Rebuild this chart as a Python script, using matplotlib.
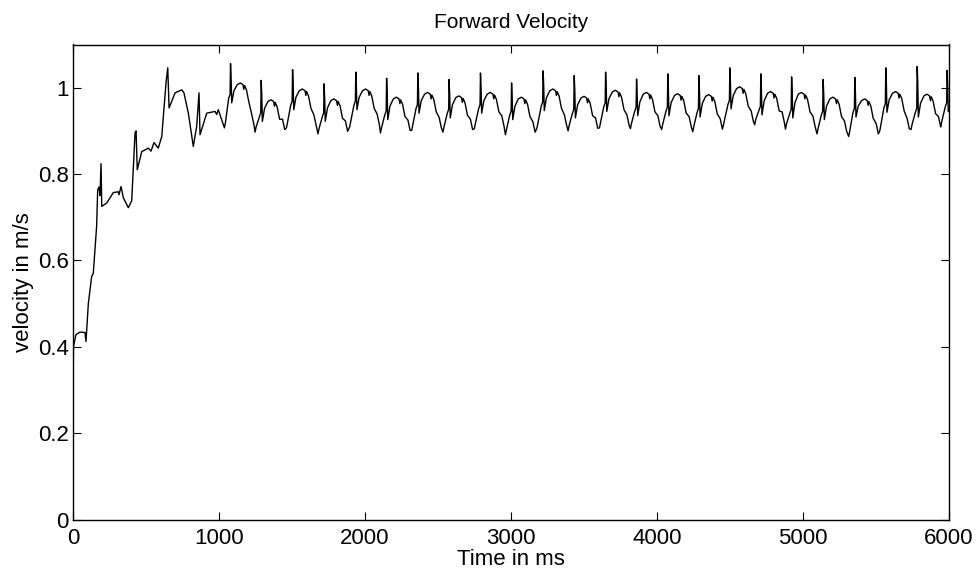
import numpy as np
import matplotlib
matplotlib.use("Agg")
import matplotlib.pyplot as plt

# ---- data ----
# early (start-up) part of the trace: time in ms, velocity in m/s
early_t = [0, 3, 20, 48, 82, 89, 105, 128, 139, 162, 169, 178, 185, 192, 197,
           231, 276, 310, 315, 329, 345, 379, 402, 425, 432, 440, 471, 516, 534,
           555, 584, 608, 637, 649, 658, 699, 745, 760, 790, 824, 847, 863, 870,
           916, 973, 984, 995]
early_v = [0.25, 0.40, 0.428, 0.434, 0.433, 0.412, 0.50, 0.563, 0.57, 0.68, 0.763,
           0.77, 0.75, 0.824, 0.725, 0.733, 0.757, 0.759, 0.752, 0.771, 0.745,
           0.722, 0.738, 0.895, 0.90, 0.81, 0.852, 0.860, 0.853, 0.873, 0.860,
           0.887, 1.011, 1.046, 0.953, 0.988, 0.995, 0.988, 0.941, 0.864, 0.910,
           0.988, 0.891, 0.941, 0.945, 0.938, 0.949]

# periodic part: one entry per stride spike
spike_t = [1080, 1290, 1505, 1721, 1938, 2149, 2363, 2577, 2792, 3005, 3221,
           3434, 3649, 3861, 4075, 4288, 4500, 4712, 4923, 5139, 5356, 5568,
           5783, 5988]
spike_v = [1.056, 1.017, 1.042, 1.009, 1.036, 1.022, 1.034, 1.019, 1.034, 1.011,
           1.039, 1.028, 1.036, 1.020, 1.032, 1.028, 1.046, 1.032, 1.025, 1.019,
           1.024, 1.046, 1.049, 1.040]
trough_v = [0.907, 0.897, 0.907, 0.893, 0.909, 0.895, 0.901, 0.897, 0.905, 0.891,
            0.907, 0.900, 0.907, 0.905, 0.903, 0.898, 0.916, 0.914, 0.904, 0.893,
            0.887, 0.899, 0.903, 0.912]
dip_v = [0.965, 0.922, 0.949, 0.922, 0.949, 0.926, 0.941, 0.930, 0.941, 0.926,
         0.947, 0.930, 0.945, 0.935, 0.935, 0.932, 0.951, 0.937, 0.930, 0.926,
         0.932, 0.943, 0.932, 0.945]
hump_v = [1.011, 0.972, 0.997, 0.974, 0.997, 0.978, 0.989, 0.981, 0.989, 0.978,
          0.997, 0.980, 0.994, 0.989, 0.986, 0.984, 1.002, 0.991, 0.989, 0.978,
          0.974, 0.991, 0.985, None]

x_ticks = [0, 1000, 2000, 3000, 4000, 5000, 6000]
y_ticks = [0, 0.2, 0.4, 0.6, 0.8, 1.0]
y_tick_labels = ["0", "0.2", "0.4", "0.6", "0.8", "1"]

# ---- build trace ----
t_all = list(early_t)
v_all = list(early_v)
for ts, S, T, D, H in zip(spike_t, spike_v, trough_v, dip_v, hump_v):
    pts = [(ts - 43, T), (ts - 36, T + 0.012), (ts - 14, D + 0.01),
           (ts - 4, D + 0.02), (ts - 1, S), (ts + 3, S - 0.035), (ts + 7, D)]
    if H is not None:
        pts += [(ts + 22, D + 0.6 * (H - D)), (ts + 45, H - 0.004), (ts + 66, H),
                (ts + 84, H - 0.004), (ts + 90, H - 0.015), (ts + 95, H - 0.006),
                (ts + 108, H - 0.016), (ts + 125, H - 0.045), (ts + 145, T + 0.03),
                (ts + 160, T + 0.006)]
    else:
        pts += [(6000, D)]
    for a, b in pts:
        t_all.append(a)
        v_all.append(b)

t_all = np.array(t_all)
v_all = np.array(v_all)
m = t_all <= 6000
t_all, v_all = t_all[m], v_all[m]

# ---- plot ----
plt.rcParams['font.family'] = ['Liberation Sans', 'DejaVu Sans']
fig = plt.figure(figsize=(9.79, 5.72), dpi=100)
ax = fig.add_axes([73 / 979, (572 - 519.5) / 572, (949 - 73) / 979, (519.5 - 44.5) / 572])
ax.plot(t_all, v_all, color='black', linewidth=1.0)
ax.set_xlim(0, 6000)
ax.set_ylim(0, 1.1)
ax.set_xticks(x_ticks)
ax.set_yticks(y_ticks)
ax.set_yticklabels(y_tick_labels)
ax.tick_params(direction='in', top=True, right=True, labelsize=16, length=6)
ax.tick_params(axis='x', pad=6)
ax.tick_params(axis='y', pad=3)
for s in ax.spines.values():
    s.set_linewidth(1.0)
ax.set_title("Forward Velocity", fontsize=15, pad=12)
ax.set_xlabel("Time in ms", fontsize=16, labelpad=0)
ax.set_ylabel("velocity in m/s", fontsize=16, labelpad=3)
fig.savefig("out.png", dpi=100, facecolor='white')
